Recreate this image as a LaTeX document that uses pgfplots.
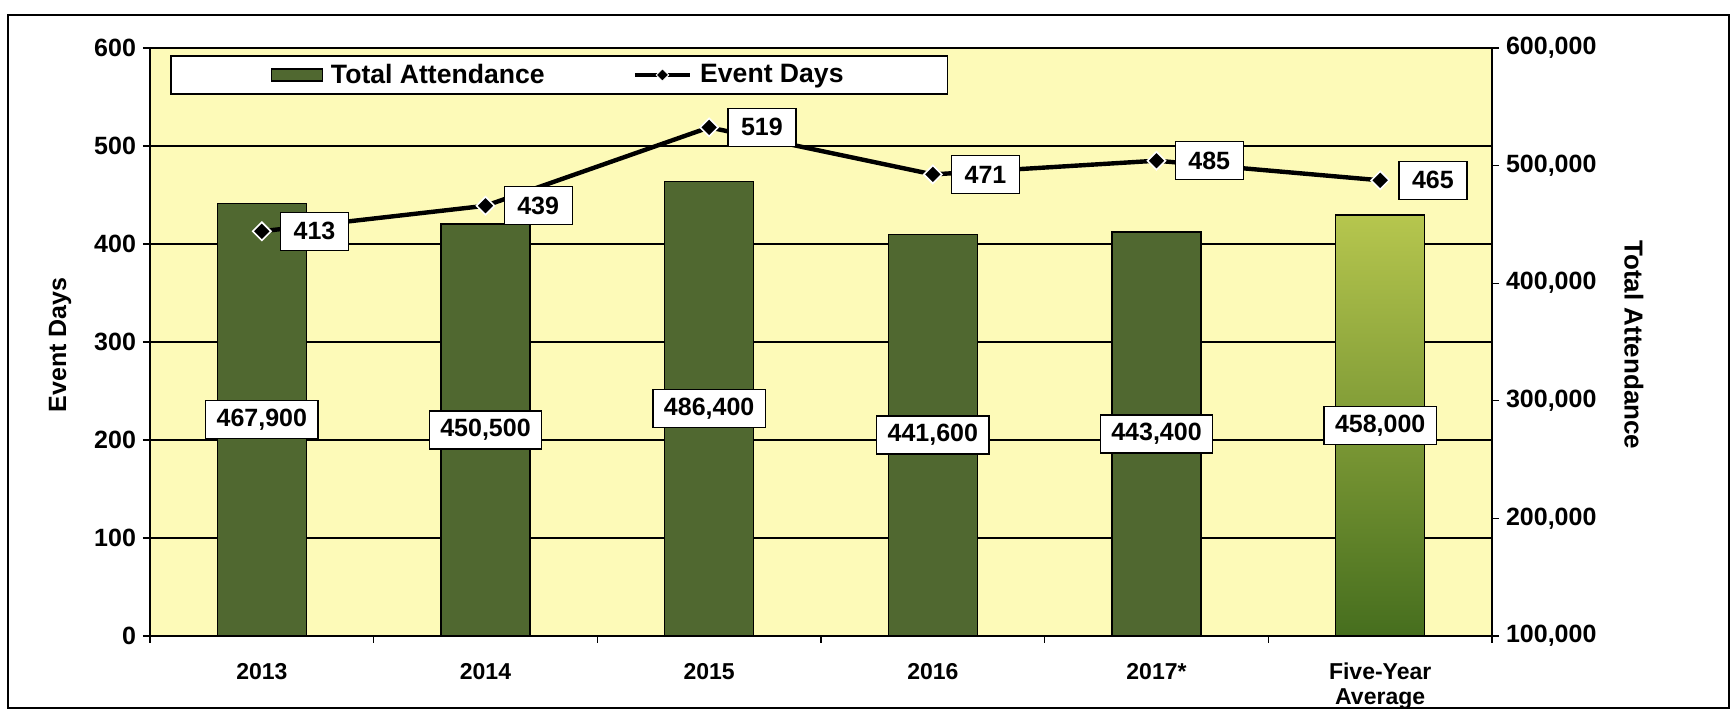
\documentclass[border=0pt]{standalone}
\usepackage{fontspec}
\setmainfont{Liberation Sans}
\usepackage{pgfplots}
\usepackage{pgfplotstable}
\pgfplotsset{compat=1.18}

\definecolor{barcol}{RGB}{80,104,48}
\definecolor{bgyel}{RGB}{253,250,184}
\definecolor{avgtop}{RGB}{182,198,78}
\definecolor{avgbot}{RGB}{70,110,30}

\pgfplotstableread{
x att days
0 467900 413
1 450500 439
2 486400 519
3 441600 471
4 443400 485
5 458000 465
}\datatable

\pgfplotsset{
  /pgf/number format/assume math mode=true,
  every axis/.append style={
    scale only axis, width=671pt, height=294pt,
    xmin=-0.5, xmax=5.5,
    tick align=outside, major tick length=3.5pt,
    tick style={black, line width=0.6pt},
    axis line style={black, line width=0.8pt},
    tick label style={font=\fontsize{12.5}{15}\selectfont},
  },
  barleg/.style={legend image code/.code={\draw[##1] (0pt,-3pt) rectangle (25.5pt,3pt);}},
  lineleg/.style={legend image code/.code={\draw[mark repeat=2, mark phase=2, ##1]
    plot coordinates {(0pt,0pt) (13.75pt,0pt) (27.5pt,0pt)};}},
}

\begin{document}
\bfseries
\begin{tikzpicture}
\path[use as bounding box] (-75pt,-37.5pt) rectangle (791pt,318pt);

% bars, right axis
\begin{axis}[
  at={(0pt,0pt)}, anchor=south west,
  ymin=100000, ymax=600000,
  axis background/.style={fill=bgyel},
  ytick={100000,200000,...,600000},
  yticklabel pos=right, ytick pos=right,
  scaled y ticks=false,
  yticklabel style={/pgf/number format/fixed, /pgf/number format/1000 sep={,}},
  % gridlines sit at the left axis' steps of 100 event days
  extra y ticks={183333.33,266666.67,350000,433333.33,516666.67},
  extra y tick labels={},
  extra y tick style={grid=major, major tick length=0pt},
  grid style={black, line width=0.8pt},
  xtick={-0.5,0.5,...,5.5}, xticklabels={},
  xtick pos=left,
  extra x ticks={0,1,2,3,4,5},
  extra x tick labels={2013,2014,2015,2016,2017*,{Five-Year\\Average}},
  extra x tick style={major tick length=0pt, grid=none,
    xticklabel style={align=center, font=\fontsize{11.5}{12.5}\selectfont, yshift=-10pt}},
  ylabel={Total Attendance},
  every axis y label/.style={at={(axis description cs:1.1058,0.495)}, rotate=-90, anchor=center,
    font=\fontsize{13}{15}\selectfont},
]
\addplot[ybar, bar width=44.5pt, bar shift=0pt, fill=barcol, draw=black, line width=0.7pt,
  restrict x to domain=0:4] table[x=x, y=att] {\datatable};
\addplot[ybar, bar width=44.5pt, bar shift=0pt, top color=avgtop, bottom color=avgbot, draw=black, line width=0.7pt,
  restrict x to domain=5:5] table[x=x, y=att] {\datatable};
\addplot[draw=none, mark=none, nodes near coords, point meta=explicit,
  every node near coord/.append style={anchor=center, fill=white, draw=black, line width=0.7pt,
    inner xsep=5.5pt, minimum height=19pt, font=\fontsize{12.5}{15}\selectfont,
    /pgf/number format/fixed, /pgf/number format/precision=0, /pgf/number format/1000 sep={,}}]
  table[x=x, y expr={(\thisrow{att}+100000)/2}, meta=att] {\datatable};
\end{axis}

% line, left axis
\begin{axis}[
  at={(0pt,0pt)}, anchor=south west,
  ymin=0, ymax=600,
  axis x line=none, axis y line*=left,
  ytick={0,100,...,600}, ytick pos=left,
  ylabel={Event Days},
  every axis y label/.style={at={(axis description cs:-0.067,0.495)}, rotate=90, anchor=center,
    font=\fontsize{12.5}{15}\selectfont},
  legend columns=2,
  legend style={at={(axis description cs:0.0149,0.988)}, anchor=north west,
    draw=black, line width=0.8pt, fill=white, inner xsep=50pt, inner ysep=2pt,
    font=\fontsize{13.3}{15}\selectfont,
    /tikz/every even column/.append style={column sep=42pt}},
]
\addlegendimage{barleg, fill=barcol, draw=black, line width=0.6pt}
\addlegendentry{\hspace{2pt}Total Attendance}
\addlegendimage{lineleg, black, line width=2.2pt, mark=square*, mark size=2.2pt,
  mark options={rotate=45, fill=black, draw=white, line width=0.5pt}}
\addlegendentry{\hspace{2pt}Event Days}
\addplot[black, line width=2.2pt, mark=square*, mark size=3.2pt,
  mark options={rotate=45, fill=black, draw=white, line width=0.8pt},
  nodes near coords, point meta=explicit,
  every node near coord/.append style={anchor=west, xshift=9pt, fill=white, draw=black, line width=0.7pt,
    minimum width=34pt, minimum height=19pt, font=\fontsize{12.5}{15}\selectfont,
    /pgf/number format/fixed, /pgf/number format/precision=0},
  forget plot] table[x=x, y=days, meta=days] {\datatable};
\end{axis}

\draw[black, line width=1pt] (-71pt,-36pt) rectangle (789.5pt,310.5pt);
\end{tikzpicture}
\end{document}
